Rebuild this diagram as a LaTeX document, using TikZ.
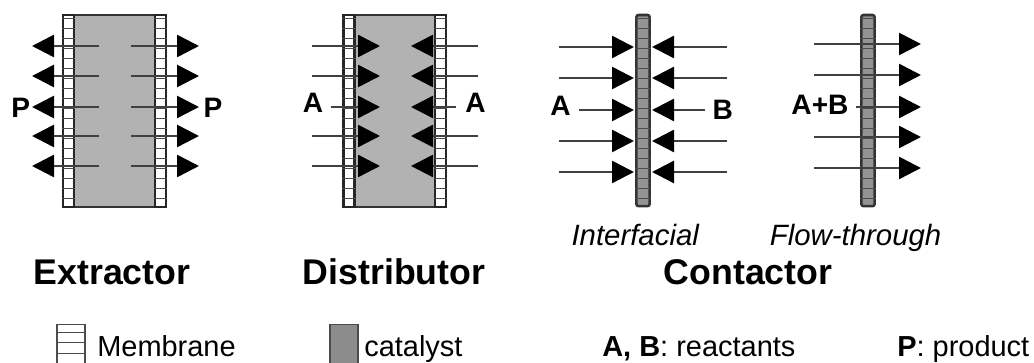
\documentclass[tikz,border=0pt]{standalone}
\usepackage{fontspec}
\setmainfont{Liberation Sans}
\usetikzlibrary{arrows.meta}

\begin{document}
\begin{tikzpicture}[
    flow/.style={line width=1.8pt, color=black!75, -{Triangle[length=5.5mm,width=5.5mm,color=black]}},
    catalyst/.style={draw=black!80, line width=1.2pt, fill=black!30, inner sep=0pt, minimum height=4.8cm},
    strip/.style={draw=black!85, line width=1.8pt, fill=white, inner sep=0pt, minimum height=4.8cm, minimum width=0.28cm},
    bar/.style={draw=black!80, line width=1.8pt, fill=black!42, rounded corners=1.5pt, inner sep=0pt, minimum height=4.78cm, minimum width=0.33cm},
    tick/.style={draw=black!70, line width=0.7pt},
    swatch/.style={draw=black!70, line width=1pt, inner sep=0pt, minimum width=0.7cm, minimum height=1cm},
    label/.style={font=\bfseries\fontsize{20pt}{22pt}\selectfont, inner sep=0pt},
    title/.style={font=\bfseries\fontsize{25.4pt}{28pt}\selectfont, inner sep=0pt, anchor=base},
    mode/.style={font=\itshape\fontsize{20.9pt}{24pt}\selectfont, inner sep=0pt, anchor=base},
    legend/.style={font=\fontsize{20.6pt}{24pt}\selectfont, inner sep=0pt, anchor=base west},
  ]
  \useasboundingbox (0,0) rectangle (25.85,9.075);

  % Extractor and distributor bodies
  \node[catalyst, minimum width=2.575cm] (ext) at (2.8625, 6.3) {};
  \node[catalyst, minimum width=2.575cm] (dis) at (9.8625, 6.3) {};
  \node[strip] (extl) at (1.7125, 6.3) {};
  \node[strip] (extr) at (4.0125, 6.3) {};
  \node[strip] (disl) at (8.725, 6.3) {};
  \node[strip] (disr) at (11.0125, 6.3) {};

  % Contactor bars
  \node[bar] (conb) at (16.075, 6.31) {};
  \node[bar] (flob) at (21.7, 6.31) {};

  % Membrane ticks
  \foreach \m in {extl, extr, disl, disr, conb, flob} {
    \foreach \y in {4.1, 4.35, ..., 8.6} {
      \draw[tick] (\m.west |- 0, \y) -- (\m.east |- 0, \y);
    }
  }

  % Extractor arrows
  \foreach \i/\y in {1/7.925, 2/7.175, 3/6.4, 4/5.675, 5/4.925} {
    \coordinate (exla\i) at (2.475, \y);
    \coordinate (exlb\i) at (0.8, \y);
    \coordinate (exra\i) at (3.275, \y);
    \coordinate (exrb\i) at (4.975, \y);
    \draw[flow] (exla\i) -- (exlb\i);
    \draw[flow] (exra\i) -- (exrb\i);
  }

  % Distributor arrows, the middle ones are shorter
  \foreach \i/\y/\s/\e in {1/7.925/7.8/11.95, 2/7.175/7.8/11.95, 3/6.4/8.275/11.4, 4/5.675/7.8/11.95, 5/4.925/7.8/11.95} {
    \coordinate (dila\i) at (\s, \y);
    \coordinate (dilb\i) at (9.5, \y);
    \coordinate (dira\i) at (\e, \y);
    \coordinate (dirb\i) at (10.275, \y);
    \draw[flow] (dila\i) -- (dilb\i);
    \draw[flow] (dira\i) -- (dirb\i);
  }

  % Interfacial contactor arrows
  \foreach \i/\y/\s/\e in {1/7.9/13.975/18.175, 2/7.125/13.975/18.175, 3/6.325/14.475/17.625, 4/5.55/13.975/18.175, 5/4.775/13.975/18.175} {
    \coordinate (cola\i) at (\s, \y);
    \coordinate (colb\i) at (15.85, \y);
    \coordinate (cora\i) at (\e, \y);
    \coordinate (corb\i) at (16.3, \y);
    \draw[flow] (cola\i) -- (colb\i);
    \draw[flow] (cora\i) -- (corb\i);
  }

  % Flow-through contactor arrows
  \foreach \i/\y/\s in {1/7.975/20.35, 2/7.2/20.35, 3/6.4/21.4, 4/5.65/20.35, 5/4.875/20.35} {
    \coordinate (flla\i) at (\s, \y);
    \coordinate (fllb\i) at (23.025, \y);
    \draw[flow] (flla\i) -- (fllb\i);
  }

  % Species labels
  \node[label] (pl) at (0.52, 6.39) {P};
  \node[label] (pr) at (5.325, 6.39) {P};
  \node[label] (al) at (7.825, 6.5) {A};
  \node[label] (ar) at (11.89, 6.5) {A};
  \node[label] (ac) at (14.01, 6.42) {A};
  \node[label] (bc) at (18.07, 6.325) {B};
  \node[label] (abf) at (20.5, 6.45) {A+B};

  % Names
  \node[mode] (inter) at (15.88, 2.94) {Interfacial};
  \node[mode] (ft) at (21.39, 2.94) {Flow-through};
  \node[title] (extn) at (2.8, 1.95) {Extractor};
  \node[title] (disn) at (9.85, 1.95) {Distributor};
  \node[title] (conn) at (18.7, 1.95) {Contactor};

  % Legend
  \node[swatch, fill=white] (lmem) at (1.775, 0.46) {};
  \foreach \y in {0.25, 0.525, 0.775} {
    \draw[tick] (lmem.west |- 0, \y) -- (lmem.east |- 0, \y);
  }
  \node[swatch, fill=black!45] (lcat) at (8.6, 0.46) {};
  \node[legend] (tmem) at (2.425, 0.15) {Membrane};
  \node[legend] (tcat) at (9.1, 0.15) {catalyst};
  \node[legend] (trea) at (15.05, 0.15) {\textbf{A, B}: reactants};
  \node[legend] (tpro) at (22.425, 0.15) {\textbf{P}: product};
\end{tikzpicture}
\end{document}
